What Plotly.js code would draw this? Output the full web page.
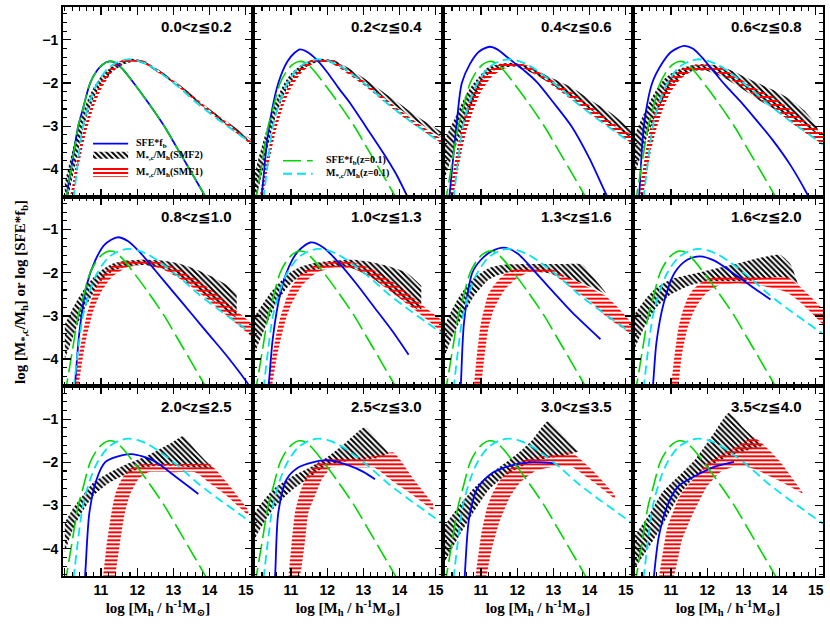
<!DOCTYPE html>
<html>
<head>
<meta charset="utf-8">
<script src="https://cdn.plot.ly/plotly-3.0.1.min.js"></script>
<style>body{margin:0;background:#fff}</style>
</head>
<body>
<div id="chart" style="width:830px;height:627px"></div>
<script>
var zBins = ["0.0<z≦0.2", "0.2<z≦0.4", "0.4<z≦0.6", "0.6<z≦0.8",
             "0.8<z≦1.0", "1.0<z≦1.3", "1.3<z≦1.6", "1.6<z≦2.0",
             "2.0<z≦2.5", "2.5<z≦3.0", "3.0<z≦3.5", "3.5<z≦4.0"];

// z=0.1 reference curves, drawn in every panel
var refSfeX = [10.0, 10.06, 10.2, 10.37, 10.5, 10.7, 10.9, 11.05, 11.22, 11.4, 11.6, 11.95, 12.3, 12.75, 13.1, 13.45, 13.9];
var refSfeY = [-4.85, -4.55, -3.85, -3.0, -2.6, -2.0, -1.7, -1.57, -1.5, -1.53, -1.68, -2.05, -2.45, -3.0, -3.5, -4.0, -4.65];
var refMhX = [10.2, 10.25, 10.35, 10.5, 10.7, 10.9, 11.2, 11.5, 11.75, 12.0, 12.3, 12.65, 13.2, 13.7, 14.2, 14.7, 15.2];
var refMhY = [-5.0, -4.63, -3.9, -3.0, -2.4, -2.0, -1.65, -1.5, -1.45, -1.48, -1.58, -1.77, -2.13, -2.5, -2.82, -3.12, -3.42];

// SFE*f_b in each redshift bin (blue)
var sfeX = [
  [10.0, 10.06, 10.2, 10.37, 10.5, 10.7, 10.9, 11.05, 11.22, 11.4, 11.6, 11.95, 12.3, 12.75, 13.1, 13.45, 13.9],
  [10.1, 10.19, 10.37, 10.65, 10.9, 11.1, 11.25, 11.45, 11.71, 12.0, 12.3, 12.63, 13.1, 13.55, 13.9, 14.2],
  [10.05, 10.13, 10.32, 10.47, 10.7, 10.95, 11.24, 11.45, 11.65, 11.93, 12.25, 12.57, 13.0, 13.5, 14.0, 14.46, 14.6],
  [10.05, 10.12, 10.25, 10.48, 10.75, 11.0, 11.36, 11.6, 11.85, 12.14, 12.5, 12.88, 13.3, 13.8, 14.3, 14.77, 14.9],
  [10.2, 10.28, 10.4, 10.6, 10.85, 11.1, 11.45, 11.75, 12.1, 12.5, 13.0, 13.5, 14.0, 14.5, 15.0, 15.2],
  [10.3, 10.38, 10.5, 10.7, 10.95, 11.2, 11.55, 11.9, 12.3, 12.8, 13.3, 13.8, 14.25],
  [10.4, 10.44, 10.53, 10.76, 11.0, 11.3, 11.64, 12.0, 12.6, 13.0, 13.52, 14.3],
  [10.45, 10.5, 10.6, 10.8, 11.1, 11.45, 11.8, 12.2, 12.7, 13.2, 13.75],
  [10.5, 10.56, 10.68, 10.88, 11.11, 11.4, 11.85, 12.45, 13.09, 13.69],
  [10.5, 10.56, 10.65, 10.88, 11.2, 11.6, 11.98, 12.63, 13.0, 13.32],
  [10.5, 10.55, 10.67, 10.9, 11.3, 11.8, 12.3, 12.7, 13.0],
  [10.48, 10.53, 10.67, 10.94, 11.22, 11.68, 12.14, 12.74]
];
var sfeY = [
  [-4.85, -4.55, -3.85, -3.0, -2.6, -2.0, -1.7, -1.57, -1.5, -1.53, -1.68, -2.05, -2.45, -3.0, -3.5, -4.0, -4.65],
  [-5.0, -4.58, -3.15, -2.0, -1.5, -1.3, -1.22, -1.28, -1.46, -1.75, -2.1, -2.46, -3.05, -3.62, -4.1, -4.6],
  [-5.2, -4.6, -3.0, -2.0, -1.55, -1.27, -1.16, -1.22, -1.35, -1.54, -1.75, -2.0, -2.45, -3.0, -3.75, -4.58, -4.8],
  [-5.2, -4.6, -3.0, -2.0, -1.55, -1.28, -1.14, -1.2, -1.4, -1.69, -2.05, -2.39, -2.8, -3.31, -3.9, -4.58, -4.8],
  [-5.2, -4.6, -3.4, -2.3, -1.7, -1.35, -1.18, -1.27, -1.55, -1.95, -2.45, -2.95, -3.45, -3.95, -4.5, -4.75],
  [-5.0, -4.6, -3.5, -2.5, -1.85, -1.5, -1.3, -1.42, -1.75, -2.25, -2.8, -3.35, -3.9],
  [-5.0, -4.63, -3.16, -2.0, -1.7, -1.5, -1.42, -1.55, -2.08, -2.45, -2.92, -3.54],
  [-5.0, -4.63, -3.6, -2.7, -2.0, -1.7, -1.62, -1.72, -2.0, -2.3, -2.62],
  [-5.2, -4.63, -3.16, -2.39, -2.0, -1.88, -1.81, -1.96, -2.35, -2.73],
  [-5.2, -4.63, -3.16, -2.39, -2.12, -2.0, -1.95, -2.08, -2.22, -2.39],
  [-5.2, -4.63, -3.3, -2.6, -2.25, -2.08, -2.0, -2.0, -2.02],
  [-5.2, -4.63, -3.69, -2.92, -2.54, -2.31, -2.12, -1.99]
];

// M*,c/Mh band from SMF2 (black hatch)
var smf2X = [
  [10.0, 10.1, 10.2, 10.3, 10.4, 10.5, 10.6, 10.8, 11.0, 11.3, 11.6, 11.9, 12.2, 12.6, 13.0, 13.5, 14.0, 14.5, 15.2],
  [10.0, 10.1, 10.2, 10.3, 10.4, 10.5, 10.6, 10.8, 11.0, 11.3, 11.6, 11.9, 12.2, 12.6, 13.0, 13.5, 14.0, 14.5, 15.2],
  [10.0, 10.2, 10.4, 10.6, 10.8, 11.0, 11.2, 11.5, 11.9, 12.3, 12.8, 13.5, 14.0, 14.6, 15.2],
  [10.0, 10.2, 10.4, 10.6, 10.8, 11.0, 11.3, 11.6, 12.0, 12.4, 12.9, 13.4, 13.8, 14.3, 14.7, 15.05],
  [10.0, 10.2, 10.4, 10.6, 10.8, 11.0, 11.3, 11.7, 12.2, 12.7, 13.2, 13.7, 14.2, 14.6, 14.75],
  [10.0, 10.2, 10.4, 10.6, 10.8, 11.0, 11.3, 11.7, 12.2, 12.7, 13.2, 13.7, 14.2, 14.6],
  [10.0, 10.2, 10.4, 10.6, 10.8, 11.0, 11.2, 11.5, 11.7, 12.2, 12.8, 13.3, 13.8, 14.1, 14.44],
  [10.0, 10.3, 10.6, 11.0, 11.5, 12.0, 12.5, 13.0, 13.5, 14.0, 14.3, 14.5],
  [10.0, 10.2, 10.42, 10.79, 11.25, 11.71, 12.17, 12.6, 13.0, 13.27, 13.6, 13.9, 14.1],
  [10.0, 10.25, 10.51, 10.8, 11.06, 11.52, 11.98, 12.5, 13.04, 13.4, 13.69],
  [10.0, 10.4, 10.8, 11.2, 11.6, 12.0, 12.4, 12.85, 13.3, 13.7],
  [10.0, 10.4, 10.76, 11.22, 11.68, 12.14, 12.6, 13.0, 13.52]
];
var smf2Lo = [
  [-4.9, -4.6, -4.25, -3.85, -3.45, -3.1, -2.8, -2.35, -2.05, -1.75, -1.58, -1.5, -1.56, -1.77, -2.0, -2.33, -2.67, -2.98, -3.42],
  [-4.8, -4.45, -4.1, -3.7, -3.35, -3.0, -2.72, -2.28, -1.98, -1.7, -1.55, -1.5, -1.56, -1.76, -1.98, -2.3, -2.6, -2.9, -3.28],
  [-4.2, -3.7, -3.25, -2.8, -2.4, -2.05, -1.8, -1.66, -1.62, -1.72, -1.95, -2.32, -2.6, -2.96, -3.3],
  [-4.1, -3.6, -3.1, -2.7, -2.35, -2.08, -1.85, -1.72, -1.72, -1.85, -2.1, -2.38, -2.58, -2.8, -2.98, -3.18],
  [-4.0, -3.55, -3.1, -2.75, -2.45, -2.2, -1.98, -1.85, -1.82, -1.9, -2.1, -2.4, -2.72, -2.98, -3.05],
  [-3.85, -3.45, -3.05, -2.7, -2.45, -2.25, -2.05, -1.92, -1.85, -1.9, -2.1, -2.4, -2.7, -2.9],
  [-3.92, -3.5, -3.15, -2.85, -2.55, -2.35, -2.17, -2.05, -2.0, -1.97, -2.0, -2.1, -2.25, -2.35, -2.5],
  [-3.75, -3.2, -2.8, -2.5, -2.3, -2.2, -2.2, -2.2, -2.15, -2.1, -2.15, -2.3],
  [-4.08, -3.6, -3.23, -2.77, -2.46, -2.27, -2.12, -2.08, -2.08, -2.1, -2.12, -2.14, -2.16],
  [-3.77, -3.4, -3.08, -2.82, -2.62, -2.35, -2.08, -1.98, -1.93, -1.9, -1.8],
  [-4.3, -3.7, -3.15, -2.65, -2.35, -2.15, -2.0, -1.9, -1.85, -1.75],
  [-4.46, -3.95, -3.46, -2.77, -2.31, -2.05, -1.85, -1.75, -1.62]
];
var smf2Hi = [
  [-4.3, -3.95, -3.6, -3.25, -2.95, -2.7, -2.45, -2.1, -1.85, -1.62, -1.5, -1.44, -1.5, -1.7, -1.93, -2.26, -2.6, -2.9, -3.33],
  [-4.1, -3.75, -3.45, -3.15, -2.85, -2.6, -2.38, -2.02, -1.78, -1.57, -1.47, -1.44, -1.48, -1.66, -1.88, -2.18, -2.48, -2.78, -3.15],
  [-3.3, -2.95, -2.6, -2.25, -2.0, -1.8, -1.63, -1.56, -1.53, -1.6, -1.82, -2.1, -2.38, -2.7, -3.1],
  [-3.2, -2.8, -2.45, -2.15, -1.92, -1.78, -1.65, -1.58, -1.56, -1.62, -1.8, -2.0, -2.15, -2.38, -2.65, -3.02],
  [-3.2, -2.85, -2.55, -2.3, -2.1, -1.95, -1.8, -1.72, -1.7, -1.72, -1.8, -1.95, -2.15, -2.35, -2.5],
  [-3.0, -2.75, -2.5, -2.3, -2.12, -1.98, -1.85, -1.77, -1.72, -1.7, -1.75, -1.85, -2.0, -2.3],
  [-3.2, -2.85, -2.55, -2.32, -2.12, -2.0, -1.9, -1.83, -1.81, -1.8, -1.8, -1.8, -1.81, -2.1, -2.45],
  [-2.95, -2.6, -2.35, -2.15, -2.05, -1.95, -1.85, -1.75, -1.65, -1.58, -1.8, -2.25],
  [-3.39, -3.1, -2.85, -2.46, -2.23, -2.04, -1.89, -1.7, -1.52, -1.39, -1.7, -1.97, -2.14],
  [-3.16, -2.87, -2.62, -2.45, -2.31, -2.12, -1.89, -1.55, -1.19, -1.5, -1.77],
  [-3.45, -3.0, -2.6, -2.3, -2.05, -1.8, -1.5, -1.05, -1.4, -1.75],
  [-3.69, -3.2, -2.69, -2.31, -1.92, -1.38, -0.85, -1.2, -1.62]
];

// M*,c/Mh band from SMF1 (red hatch)
var smf1X = [
  [10.15, 10.2, 10.3, 10.4, 10.5, 10.6, 10.8, 11.0, 11.3, 11.6, 11.9, 12.2, 12.6, 13.0, 13.5, 14.0, 14.5, 15.2],
  [10.15, 10.2, 10.3, 10.4, 10.5, 10.6, 10.8, 11.0, 11.3, 11.6, 11.9, 12.2, 12.6, 13.0, 13.5, 14.0, 14.5, 15.2],
  [10.15, 10.25, 10.35, 10.45, 10.6, 10.8, 11.0, 11.3, 11.6, 11.9, 12.3, 12.8, 13.5, 14.0, 14.6, 15.2],
  [10.15, 10.25, 10.35, 10.45, 10.6, 10.8, 11.0, 11.3, 11.6, 12.0, 12.4, 12.9, 13.4, 13.8, 14.3, 14.8, 15.2],
  [10.3, 10.4, 10.5, 10.6, 10.8, 11.0, 11.3, 11.7, 12.2, 12.7, 13.2, 13.7, 14.2, 14.7, 15.2],
  [10.4, 10.5, 10.6, 10.7, 10.85, 11.0, 11.3, 11.7, 12.2, 12.7, 13.2, 13.7, 14.2, 14.7, 15.2],
  [10.8, 10.9, 11.0, 11.1, 11.2, 11.35, 11.5, 11.7, 11.95, 12.3, 12.9, 13.5, 14.0, 14.44, 14.8, 15.2],
  [11.0, 11.1, 11.2, 11.3, 11.45, 11.6, 11.8, 12.0, 12.3, 12.8, 13.5, 14.2, 14.6, 15.2],
  [11.06, 11.15, 11.29, 11.39, 11.5, 11.57, 11.66, 11.8, 12.03, 12.3, 13.0, 13.6, 14.0, 14.47, 15.07],
  [10.93, 11.02, 11.11, 11.25, 11.39, 11.48, 11.7, 11.85, 11.98, 12.1, 13.0, 13.3, 13.83, 14.4, 14.93],
  [10.85, 11.0, 11.15, 11.3, 11.5, 11.8, 12.1, 12.5, 13.0, 13.5, 14.1, 14.7],
  [10.67, 10.9, 11.08, 11.2, 11.3, 11.6, 12.0, 12.4, 12.88, 13.29, 13.98, 14.63]
];
var smf1Lo = [
  [-5.0, -4.8, -4.3, -3.85, -3.45, -3.1, -2.55, -2.15, -1.75, -1.55, -1.5, -1.56, -1.77, -2.0, -2.34, -2.68, -3.0, -3.46],
  [-5.0, -4.75, -4.25, -3.8, -3.4, -3.05, -2.5, -2.12, -1.75, -1.56, -1.52, -1.58, -1.8, -2.04, -2.38, -2.72, -3.02, -3.42],
  [-5.0, -4.55, -4.1, -3.65, -3.1, -2.6, -2.2, -1.85, -1.68, -1.62, -1.7, -1.95, -2.38, -2.7, -3.05, -3.42],
  [-5.0, -4.5, -4.0, -3.55, -3.05, -2.55, -2.2, -1.88, -1.72, -1.7, -1.8, -2.05, -2.35, -2.56, -2.9, -3.2, -3.42],
  [-5.0, -4.5, -3.95, -3.5, -2.85, -2.45, -2.1, -1.88, -1.82, -1.92, -2.15, -2.45, -2.8, -3.15, -3.5],
  [-5.0, -4.5, -4.0, -3.6, -3.1, -2.75, -2.3, -2.0, -1.88, -1.9, -2.1, -2.4, -2.72, -3.05, -3.4],
  [-5.5, -5.0, -4.63, -3.9, -3.3, -2.85, -2.6, -2.35, -2.15, -2.0, -2.0, -2.35, -2.65, -3.0, -3.22, -3.45],
  [-5.5, -5.0, -4.63, -3.9, -3.3, -2.95, -2.65, -2.45, -2.3, -2.25, -2.3, -2.45, -2.7, -3.2],
  [-5.5, -5.2, -4.9, -4.63, -4.0, -3.6, -3.16, -2.75, -2.39, -2.23, -2.23, -2.23, -2.48, -2.77, -3.23],
  [-5.5, -5.2, -4.95, -4.63, -3.8, -3.16, -2.7, -2.39, -2.25, -2.12, -2.12, -2.12, -2.45, -2.78, -3.12],
  [-5.5, -5.1, -4.63, -4.0, -3.4, -2.8, -2.45, -2.2, -2.1, -2.1, -2.45, -2.85],
  [-5.5, -5.0, -4.63, -4.2, -3.8, -3.2, -2.55, -2.2, -2.08, -2.15, -2.42, -2.72]
];
var smf1Hi = [
  [-4.6, -4.4, -3.9, -3.5, -3.15, -2.85, -2.35, -1.98, -1.62, -1.46, -1.42, -1.49, -1.7, -1.94, -2.27, -2.61, -2.92, -3.38],
  [-4.55, -4.3, -3.85, -3.45, -3.1, -2.8, -2.3, -1.95, -1.6, -1.45, -1.42, -1.48, -1.7, -1.94, -2.28, -2.62, -2.93, -3.32],
  [-4.5, -3.95, -3.45, -3.05, -2.6, -2.2, -1.9, -1.65, -1.55, -1.52, -1.6, -1.85, -2.22, -2.52, -2.9, -3.22],
  [-4.4, -3.85, -3.35, -2.95, -2.5, -2.15, -1.88, -1.68, -1.6, -1.58, -1.65, -1.9, -2.15, -2.32, -2.62, -2.95, -3.15],
  [-4.4, -3.85, -3.4, -3.0, -2.45, -2.1, -1.85, -1.72, -1.7, -1.77, -1.95, -2.2, -2.5, -2.85, -3.2],
  [-4.4, -3.85, -3.4, -3.05, -2.65, -2.35, -2.0, -1.82, -1.74, -1.75, -1.9, -2.15, -2.45, -2.8, -3.12],
  [-4.63, -3.8, -3.15, -2.8, -2.5, -2.3, -2.15, -2.0, -1.9, -1.88, -1.9, -2.15, -2.35, -2.54, -2.82, -3.2],
  [-4.63, -3.9, -3.3, -2.95, -2.6, -2.4, -2.25, -2.15, -2.1, -2.08, -2.08, -2.1, -2.35, -2.85],
  [-4.63, -3.95, -3.16, -2.75, -2.5, -2.39, -2.28, -2.15, -2.06, -2.04, -2.04, -2.04, -2.04, -2.46, -3.1],
  [-4.63, -3.85, -3.16, -2.7, -2.39, -2.25, -2.05, -1.97, -1.92, -1.91, -1.88, -1.86, -1.77, -2.4, -2.96],
  [-4.63, -3.7, -3.1, -2.75, -2.45, -2.15, -1.97, -1.88, -1.83, -1.78, -2.2, -2.75],
  [-4.63, -3.5, -3.1, -2.85, -2.7, -2.4, -2.02, -1.82, -1.6, -1.42, -1.95, -2.69]
];

var BLUE = "rgb(0,0,255)", GREEN = "rgb(0,215,0)", CYAN = "rgb(0,230,240)", RED = "rgb(255,0,0)";
var SERIF = "Liberation Serif, DejaVu Serif, serif";
var SANS = "Liberation Sans, DejaVu Sans, sans-serif";
var blackHatch = { shape: "\\", fgcolor: "black", bgcolor: "rgba(0,0,0,0)", size: 4, solidity: 0.5 };
var redHatch = { shape: "-", fgcolor: RED, bgcolor: "rgba(0,0,0,0)", size: 4, solidity: 0.5 };

var data = [];
var layout = {
    width: 830, height: 627,
    margin: { l: 63, r: 7, t: 7, b: 51 },
    paper_bgcolor: "white", plot_bgcolor: "white",
    showlegend: false,
    annotations: [],
    font: { family: SANS, color: "black" }
};

for (var i = 0; i < 12; i++) {
    var n = i === 0 ? "" : String(i + 1);
    var xa = "x" + n, ya = "y" + n;
    var col = i % 4, row = Math.floor(i / 4);

    data.push({ x: smf2X[i], y: smf2Lo[i], xaxis: xa, yaxis: ya, mode: "lines",
        line: { width: 0, shape: "spline", smoothing: 0.5 } });
    data.push({ x: smf2X[i], y: smf2Hi[i], xaxis: xa, yaxis: ya, mode: "lines", fill: "tonexty",
        fillcolor: "rgba(0,0,0,0)", fillpattern: blackHatch,
        line: { width: 0, shape: "spline", smoothing: 0.5 } });
    data.push({ x: smf1X[i], y: smf1Lo[i], xaxis: xa, yaxis: ya, mode: "lines",
        line: { width: 0, shape: "spline", smoothing: 0.5 } });
    data.push({ x: smf1X[i], y: smf1Hi[i], xaxis: xa, yaxis: ya, mode: "lines", fill: "tonexty",
        fillcolor: "rgba(0,0,0,0)", fillpattern: redHatch,
        line: { width: 0, shape: "spline", smoothing: 0.5 } });

    data.push({ x: sfeX[i], y: sfeY[i], xaxis: xa, yaxis: ya, mode: "lines",
        line: { color: BLUE, width: 1.8, shape: "spline", smoothing: 0.8 } });
    data.push({ x: refSfeX, y: refSfeY, xaxis: xa, yaxis: ya, mode: "lines",
        line: { color: GREEN, width: 1.6, dash: "18px,6px", shape: "spline", smoothing: 0.8 } });
    data.push({ x: refMhX, y: refMhY, xaxis: xa, yaxis: ya, mode: "lines",
        line: { color: CYAN, width: 1.8, dash: "9px,5px", shape: "spline", smoothing: 0.8 } });

    var axBase = {
        showline: true, linecolor: "black", linewidth: 2, mirror: "allticks",
        ticks: "inside", ticklen: 8, tickwidth: 1.3, tickcolor: "black",
        showgrid: false, zeroline: false,
        tickfont: { family: SANS, size: 14, color: "black", weight: "bold" },
        minor: { tickmode: "linear", dtick: 0.2, ticks: "inside", ticklen: 4, tickwidth: 1.1, tickcolor: "black", showgrid: false }
    };
    layout["xaxis" + n] = Object.assign({}, axBase, {
        domain: [col * 0.25, (col + 1) * 0.25], anchor: ya, range: [9.95, 15.2],
        tickmode: "array", tickvals: [10, 11, 12, 13, 14, 15], ticktext: ["", "11", "12", "13", "14", "15"],
        minor: Object.assign({}, axBase.minor, { tick0: 10 }),
        showticklabels: row === 2
    });
    if (row === 2) {
        layout["xaxis" + n].title = { text: "log [M<sub>h</sub> / h<sup>-1</sup>M<sub>⊙</sub>]",
            font: { family: SERIF, size: 15, color: "black", weight: "bold" }, standoff: 6 };
    }
    layout["yaxis" + n] = Object.assign({}, axBase, {
        domain: [1 - (row + 1) / 3, 1 - row / 3], anchor: xa, range: [-4.63, -0.24],
        tickmode: "array", tickvals: [-1, -2, -3, -4],
        minor: Object.assign({}, axBase.minor, { tick0: 0 }),
        showticklabels: col === 0
    });

    layout.annotations.push({ xref: xa + " domain", yref: ya + " domain", x: 0.9, y: 0.895,
        xanchor: "right", yanchor: "middle", showarrow: false,
        text: zBins[i].replace("<", "&lt;"),
        font: { family: SANS, size: 15, color: "black", weight: "bold" } });
}

// legend keys
var legFont = { family: SERIF, size: 10, color: "black", weight: "bold" };
data.push({ x: [10.78, 11.75], y: [-3.4, -3.4], xaxis: "x", yaxis: "y", mode: "lines", line: { color: BLUE, width: 1.8 } });
data.push({ x: [10.78, 11.75, 11.75, 10.78, 10.78], y: [-3.59, -3.59, -3.75, -3.75, -3.59], xaxis: "x", yaxis: "y",
    mode: "lines", fill: "toself", fillcolor: "rgba(0,0,0,0)", line: { width: 0 }, fillpattern: blackHatch });
data.push({ x: [10.78, 11.75, 11.75, 10.78, 10.78], y: [-3.96, -3.96, -4.17, -4.17, -3.96], xaxis: "x", yaxis: "y",
    mode: "lines", fill: "toself", fillcolor: "rgba(0,0,0,0)", line: { width: 0 }, fillpattern: redHatch });
data.push({ x: [10.78, 11.6], y: [-3.8, -3.8], xaxis: "x2", yaxis: "y2", mode: "lines",
    line: { color: GREEN, width: 1.6, dash: "18px,6px" } });
data.push({ x: [10.78, 11.6], y: [-4.1, -4.1], xaxis: "x2", yaxis: "y2", mode: "lines",
    line: { color: CYAN, width: 1.8, dash: "9px,5px" } });

var legText = [
    ["x", "y", -3.4, "SFE*f<sub>b</sub>"],
    ["x", "y", -3.67, "M<sub>*,c</sub>/M<sub>h</sub>(SMF2)"],
    ["x", "y", -4.06, "M<sub>*,c</sub>/M<sub>h</sub>(SMF1)"],
    ["x2", "y2", -3.8, "SFE*f<sub>b</sub>(z=0.1)"],
    ["x2", "y2", -4.1, "M<sub>*,c</sub>/M<sub>h</sub>(z=0.1)"]
];
legText.forEach(function (t) {
    layout.annotations.push({ xref: t[0], yref: t[1], x: 11.9, y: t[2], xanchor: "left", yanchor: "middle",
        showarrow: false, text: t[3], font: legFont });
});

layout.annotations.push({ xref: "paper", yref: "paper", x: -0.056, y: 0.5, textangle: -90,
    xanchor: "center", yanchor: "middle", showarrow: false,
    text: "log [M<sub>*,c</sub>/M<sub>h</sub>] or log [SFE*f<sub>b</sub>]",
    font: { family: SERIF, size: 15, color: "black", weight: "bold" } });

Plotly.newPlot("chart", data, layout, { staticPlot: true });
</script>
</body>
</html>
